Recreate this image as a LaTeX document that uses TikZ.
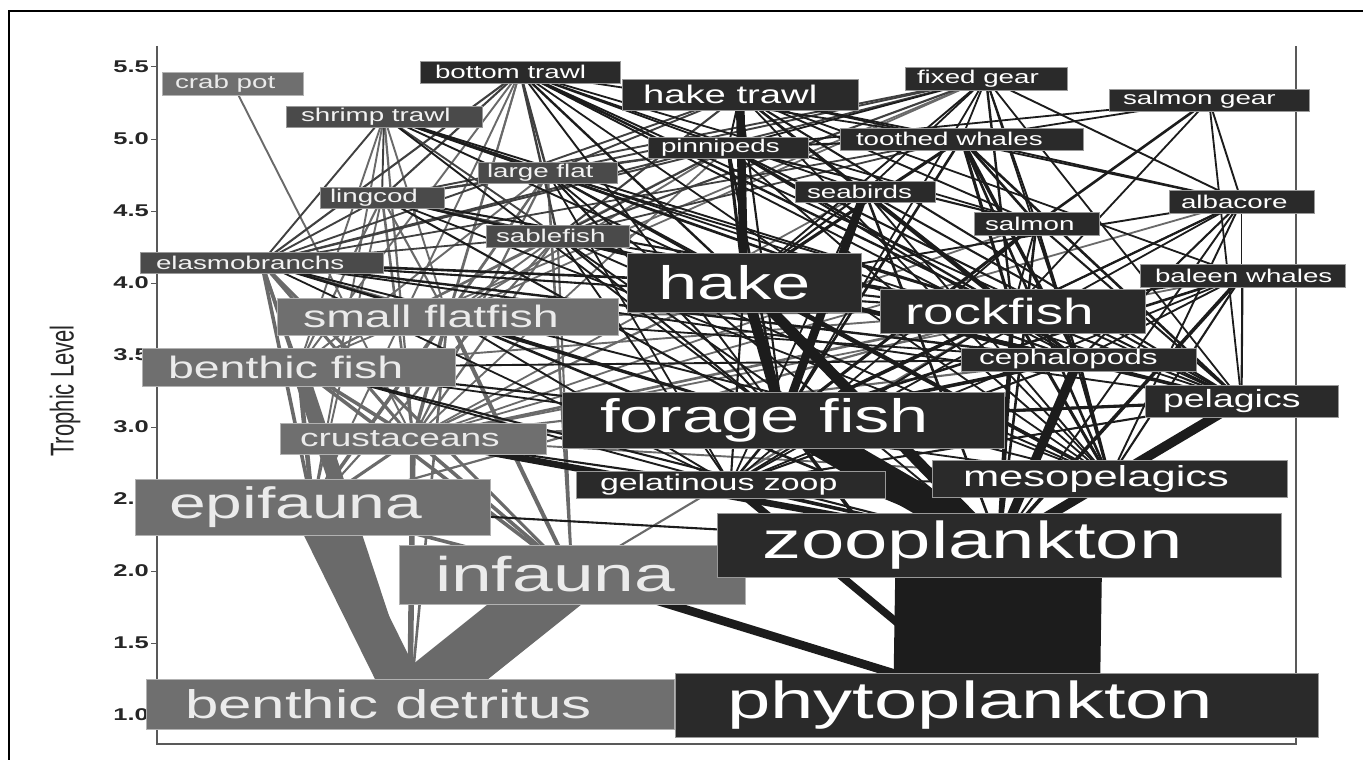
\documentclass[tikz,border=0pt]{standalone}
\usepackage{fontspec}
\newfontfamily\fwfont{Liberation Sans}[FakeStretch=1.5]
\newfontfamily\axfont{Liberation Sans}[FakeStretch=0.667]
\usetikzlibrary{backgrounds}
\definecolor{fwdk}{HTML}{2A2A2A}
\definecolor{fwmd}{HTML}{4A4A4A}
\definecolor{fwlt}{HTML}{6F6F6F}
\definecolor{lndk}{HTML}{1C1C1C}
\definecolor{lnmd}{HTML}{404040}
\definecolor{lnlt}{HTML}{6A6A6A}
\tikzset{
  dkbox/.style={draw=black!40, line width=0.8pt, fill=fwdk, text=white},
  mdbox/.style={draw=black!40, line width=0.8pt, fill=fwmd, text=white!95!black},
  ltbox/.style={draw=black!30, line width=0.8pt, fill=fwlt, text=white!92!black},
  fs/.style={font=\fwfont\fontsize{#1}{#1}\selectfont},
  dkln/.style={draw=lndk, line width=#1pt+0.6pt},
  mdln/.style={draw=lnmd, line width=#1pt+0.6pt},
  ltln/.style={draw=lnlt, line width=#1pt+0.6pt},
  axisln/.style={draw=black!65, line width=1.2pt},
}
% box from its left, top, right and bottom edge, with a left padding
\newcommand{\fwbox}[8]{%
  \pgfmathsetmacro\fwW{#5-#3-2*#7}%
  \pgfmathsetmacro\fwH{#6-#4}%
  \node[#1, minimum height=\fwH pt, inner xsep=#7pt, inner ysep=0pt] (#2)
    at ({(#3+#5)/2},{(#4+#6)/2}) {\makebox[\fwW pt][l]{#8}};}

\begin{document}
\begin{tikzpicture}[x=1pt, y=-1pt]
  \useasboundingbox (0,0) rectangle (1363,760);

  % gear
  \fwbox{ltbox, fs=18.5}{crab}{162}{72}{303}{95}{13}{crab pot}
  \fwbox{dkbox, fs=18.5}{btrawl}{420}{61}{620}{83}{15}{bottom trawl}
  \fwbox{dkbox, fs=25.5}{htrawl}{622}{79}{858}{110}{21}{hake trawl}
  \fwbox{dkbox, fs=18.5}{fixed}{905}{67}{1067}{90}{12}{fixed gear}
  \fwbox{dkbox, fs=18.5}{sgear}{1109}{89}{1309}{111}{14}{salmon gear}
  \fwbox{mdbox, fs=18.5}{shrimp}{286}{106}{482}{127}{15}{shrimp trawl}
  % top predators
  \fwbox{dkbox, fs=18.5}{pinn}{648}{137}{808}{158}{13}{pinnipeds}
  \fwbox{dkbox, fs=18.5}{twhale}{840}{128}{1083}{150}{16}{toothed whales}
  \fwbox{mdbox, fs=18.5}{lflat}{478}{162}{617}{183}{9}{large flat}
  \fwbox{mdbox, fs=18.5}{ling}{320}{187}{444}{208}{10}{lingcod}
  \fwbox{dkbox, fs=18.5}{bird}{795}{181}{935}{202}{12}{seabirds}
  \fwbox{dkbox, fs=18.5}{salmon}{974}{212}{1099}{235}{11}{salmon}
  \fwbox{dkbox, fs=18.5}{alba}{1169}{190}{1314}{213}{12}{albacore}
  \fwbox{mdbox, fs=18.5}{sable}{486}{225}{629}{247}{10}{sablefish}
  \fwbox{mdbox, fs=18.5}{elasmo}{140}{252}{383}{273}{16}{elasmobranchs}
  % fish
  \fwbox{dkbox, fs=47}{hake}{627}{253}{861}{312}{31}{hake}
  \fwbox{dkbox, fs=18.5}{bwhale}{1140}{264}{1345}{287}{15}{baleen whales}
  \fwbox{dkbox, fs=36.5}{rock}{880}{289}{1145}{333}{25}{rockfish}
  \fwbox{ltbox, fs=31}{sflat}{277}{298}{618}{335}{26}{small flatfish}
  \fwbox{ltbox, fs=31}{bfish}{142}{348}{455}{386}{26}{benthic fish}
  \fwbox{dkbox, fs=21}{ceph}{961}{348}{1196}{371}{18}{cephalopods}
  \fwbox{dkbox, fs=25}{pel}{1145}{385}{1338}{417}{18}{pelagics}
  \fwbox{dkbox, fs=47}{forage}{562}{392}{1004}{448}{38}{forage fish}
  \fwbox{ltbox, fs=24.7}{crust}{280}{423}{546}{454}{20}{crustaceans}
  \fwbox{dkbox, fs=22.6}{gel}{576}{471}{885}{498}{24}{gelatinous zoop}
  \fwbox{dkbox, fs=29}{meso}{932}{460}{1287}{497}{31}{mesopelagics}
  % lower levels
  \fwbox{ltbox, fs=44}{epi}{135}{479}{490}{535}{34}{epifauna}
  \fwbox{ltbox, fs=48.8}{inf}{399}{545}{745}{604}{36}{infauna}
  \fwbox{dkbox, fs=52}{zoo}{717}{513}{1281}{577}{45}{zooplankton}
  \fwbox{dkbox, fs=52}{phyto}{675}{673}{1318}{737}{52}{phytoplankton}
  \fwbox{ltbox, fs=40}{det}{146}{679}{674}{729}{39}{benthic detritus}

  \begin{scope}[on background layer]
    \fill[white] (0,0) rectangle (1363,760);
    \draw[line width=2.5pt] (1370,11) -- (9,11) -- (9,770);
    % axes
    \draw[axisln] (157,46) -- (157,744) -- (1296,744) -- (1296,46);
    \foreach \v/\y [count=\i] in {5.5/67, 5.0/139, 4.5/211, 4.0/283, 3.5/355,
        3.0/427, 2.5/499, 2.0/571, 1.5/643, 1.0/715} {
      \draw[axisln, line width=1pt] (151,\y) -- (156,\y);
      \node[anchor=east, inner sep=0pt, text=black!85,
        font=\fwfont\bfseries\fontsize{17}{17}\selectfont] (tk\i) at (149,\y) {\v};
    }
    \node[rotate=90, text=black!85, font=\axfont\fontsize{33}{33}\selectfont]
      (ylab) at (65,391) {Trophic Level};

    % links to benthic prey
    \foreach \a/\b/\w in {crab/crust/1.3,
        btrawl/sflat/1.3, btrawl/bfish/1.3, btrawl/crust/1.3, btrawl/epi/1.3,
        shrimp/crust/1.6, shrimp/sflat/1.3, shrimp/bfish/1.3, shrimp/epi/1.3,
        fixed/bfish/1.2, fixed/sflat/1.2, pinn/sflat/1.3, pinn/bfish/1.3, pinn/crust/1.2,
        bird/crust/1.2, salmon/crust/1.2, alba/crust/1.2, bwhale/crust/1.2,
        ling/sflat/1.5, ling/bfish/1.5, ling/crust/2, ling/epi/1.3,
        lflat/sflat/1.5, lflat/bfish/1.3, lflat/crust/1.6, lflat/epi/1.6, lflat/inf/2,
        sable/bfish/1.3, sable/sflat/1.3, sable/crust/1.6, sable/epi/1.5, sable/inf/1.5,
        elasmo/sflat/2, elasmo/bfish/2, elasmo/crust/2.5, elasmo/epi/3, elasmo/inf/2.5,
        elasmo/det/3, hake/crust/1.6, rock/crust/2, rock/epi/1.6, rock/bfish/1.3,
        rock/sflat/1.3, rock/inf/1.5, sflat/crust/3, sflat/epi/3, sflat/inf/3.5,
        sflat/det/2, bfish/crust/3, bfish/epi/4, bfish/inf/3, bfish/det/15,
        ceph/crust/1.5, forage/crust/1.6, meso/crust/1.3, pel/crust/1.3,
        crust/epi/2.5, crust/inf/3, crust/det/5, epi/inf/3, epi/det/40, inf/det/58}
      \draw[ltln=\w] (\a.center) -- (\b.center);

    % links to demersal predators
    \foreach \a/\b/\w in {btrawl/elasmo/1.5, btrawl/lflat/1.8, btrawl/ling/1.5,
        btrawl/sable/1.8, shrimp/elasmo/1.3, shrimp/lflat/1.3, shrimp/ling/1.3,
        shrimp/sable/1.3, htrawl/sable/1.5, htrawl/elasmo/1.3, htrawl/lflat/1.3,
        fixed/ling/1.3, fixed/sable/1.5, fixed/elasmo/1.3, fixed/lflat/1.3,
        pinn/elasmo/1.3, pinn/sable/1.3, pinn/lflat/1.3, pinn/ling/1.3,
        twhale/elasmo/1.2, twhale/sable/1.2, ling/sable/1.3, elasmo/ling/1.3,
        ling/lflat/1.2, elasmo/sable/1.2}
      \draw[mdln=\w] (\a.center) -- (\b.center);

    % links to pelagic prey
    \foreach \a/\b/\w in {btrawl/hake/1.8, btrawl/rock/1.8, btrawl/forage/1.3,
        btrawl/ceph/1.3, btrawl/pel/1.3, btrawl/meso/1.2, btrawl/pinn/1.2,
        btrawl/twhale/1.2, btrawl/bird/1.2, btrawl/salmon/1.2,
        shrimp/hake/1.3, shrimp/rock/1.3, shrimp/forage/1.3, shrimp/ceph/1.3, shrimp/pel/1.2,
        htrawl/hake/8, htrawl/rock/1.8, htrawl/forage/1.5, htrawl/pel/1.5, htrawl/ceph/1.3,
        htrawl/salmon/1.3, htrawl/meso/1.2, htrawl/pinn/1.3, htrawl/twhale/1.2,
        htrawl/bird/1.2, htrawl/alba/1.2, htrawl/bwhale/1.2,
        fixed/hake/1.3, fixed/rock/1.8, fixed/salmon/1.3, fixed/alba/1.3, fixed/pel/1.2,
        fixed/ceph/1.2, fixed/forage/1.2, fixed/pinn/1.2, fixed/twhale/1.2, fixed/bird/1.2,
        sgear/salmon/2, sgear/alba/1.3, sgear/twhale/1.2, sgear/pel/1.2, sgear/rock/1.2,
        sgear/pinn/1.2,
        pinn/hake/2.5, pinn/forage/2, pinn/rock/1.8, pinn/salmon/1.5, pinn/ceph/1.5,
        pinn/pel/1.5, pinn/meso/1.3,
        twhale/hake/2.5, twhale/ceph/3, twhale/rock/2.5, twhale/salmon/2, twhale/pel/2,
        twhale/forage/2, twhale/meso/2, twhale/pinn/1.5, twhale/alba/1.3,
        bird/forage/8, bird/zoo/2, bird/ceph/1.5, bird/rock/1.5, bird/meso/1.3,
        bird/hake/1.5, bird/pel/1.5, bird/gel/1.2,
        salmon/forage/2.5, salmon/zoo/2, salmon/ceph/1.5, salmon/meso/1.5,
        salmon/rock/1.3, salmon/pel/1.5, salmon/gel/1.2,
        alba/forage/1.5, alba/ceph/1.5, alba/pel/1.3, alba/meso/1.3, alba/zoo/1.3,
        alba/rock/1.3, alba/hake/1.3, alba/gel/1.2,
        bwhale/zoo/3, bwhale/forage/2, bwhale/meso/1.5, bwhale/pel/1.5, bwhale/ceph/1.3,
        bwhale/rock/1.3, bwhale/gel/1.2,
        ling/rock/1.5, ling/hake/1.5, ling/forage/1.5, ling/ceph/1.3, ling/meso/1.2,
        lflat/hake/1.5, lflat/forage/1.5, lflat/ceph/1.3, lflat/rock/1.3, lflat/zoo/1.3,
        lflat/meso/1.3, lflat/gel/1.2,
        sable/hake/1.8, sable/ceph/1.5, sable/forage/1.5, sable/rock/1.3, sable/meso/1.3,
        sable/gel/1.3, sable/zoo/1.3,
        elasmo/hake/2, elasmo/forage/2, elasmo/ceph/1.8, elasmo/rock/1.5, elasmo/pel/1.3,
        elasmo/meso/1.3, elasmo/gel/1.2,
        hake/forage/10, hake/zoo/10, hake/meso/3, hake/ceph/2, hake/gel/1.5, hake/rock/1.5,
        hake/pel/2,
        rock/zoo/4, rock/forage/3, rock/meso/2.5, rock/ceph/2, rock/gel/1.5, rock/pel/1.5,
        sflat/zoo/2, sflat/forage/1.5, sflat/gel/1.3, sflat/ceph/1.2,
        bfish/zoo/1.5, bfish/forage/1.5, bfish/gel/1.3, bfish/ceph/1.3, bfish/meso/1.2,
        ceph/forage/3, ceph/zoo/9, ceph/meso/2.5, ceph/gel/1.5, ceph/pel/1.5,
        pel/zoo/9, pel/forage/2.5, pel/meso/2, pel/gel/1.5,
        forage/zoo/30, forage/phyto/3, forage/gel/2,
        crust/zoo/6, crust/gel/1.5,
        gel/zoo/3, gel/phyto/7, meso/zoo/6, meso/gel/1.5,
        epi/zoo/1.5, inf/phyto/8, zoo/phyto/206}
      \draw[dkln=\w] (\a.center) -- (\b.center);
  \end{scope}
\end{tikzpicture}
\end{document}
